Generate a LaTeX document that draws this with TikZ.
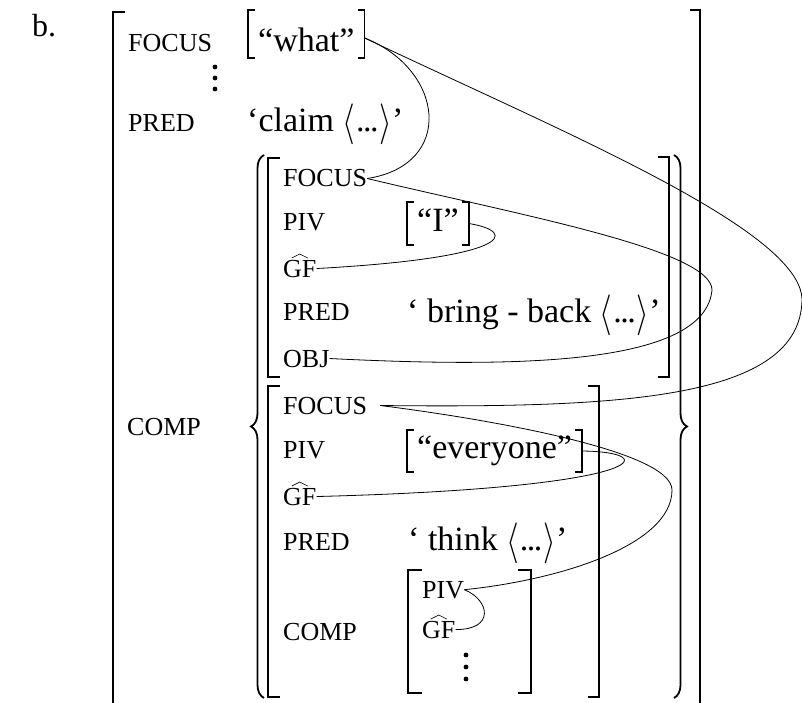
\RequirePackage{fix-cm}
\documentclass[tikz,border=0pt]{standalone}
\usepackage{graphicx}
\usepackage{fontspec}
\setmainfont{Liberation Serif}
\usetikzlibrary{decorations.pathreplacing}

% square brackets drawn along the left and right borders of a node
\newcommand\sqbrackets[1]{%
  \draw[sbar] ([xshift=7pt]#1.north west) -- (#1.north west) -- (#1.south west) -- ([xshift=7pt]#1.south west);
  \draw[sbar] ([xshift=-7pt]#1.north east) -- (#1.north east) -- (#1.south east) -- ([xshift=-7pt]#1.south east);}
% circumflex spanning the label GF
\newcommand\gfhat[1]{%
  \draw[line width=0.6pt] ([xshift=-8pt,yshift=19pt]#1.base) -- ([yshift=23pt]#1.base) -- ([xshift=8pt,yshift=19pt]#1.base);}
% argument list placeholder: tall angle brackets round three dots
\newcommand\tallangle[1]{\raisebox{-3pt}{\scalebox{0.95}[1.2]{$#1$}}}
\newcommand\argslot{\tallangle{\langle}\kern1pt.\kern-1.5pt.\kern-1.5pt.\kern1pt\tallangle{\rangle}}

\begin{document}
\begin{tikzpicture}[x=1pt,y=-1pt,
  attr/.style={anchor=base west, inner sep=0pt, font=\fontsize{26}{30}\selectfont},
  val/.style={anchor=base west, inner sep=0pt, font=\fontsize{34}{40}\selectfont},
  bval/.style={val, inner xsep=10pt},
  fbar/.style={line width=2.2pt},
  sbar/.style={line width=1.6pt},
  link/.style={line width=0.8pt},
  setbrace/.style={line width=1.8pt, decorate, decoration={brace, amplitude=13pt}}]
\useasboundingbox (0,0) rectangle (802,703);

\node[val, font=\fontsize{32}{36}\selectfont] (item) at (32,37) {b.};

% outer f-structure
\node[attr] (oFocus) at (128,52) {FOCUS};
\node[bval, text height=42pt, text depth=6pt] (what) at (248,52) {“what”};
\node[attr] (oPred) at (128,132) {PRED};
\node[val] (claim) at (247,132) {‘claim \argslot’};
\node[attr] (oComp) at (127,435) {COMP};
\foreach \yy in {67,78,89} \fill (215,\yy) circle (2.4);

% first member of the set
\node[attr] (aFocus) at (283,187) {FOCUS};
\node[attr] (aPiv) at (283,230) {PIV};
\node[attr] (aGf) at (283,277) {GF};
\node[attr] (aPred) at (283,320) {PRED};
\node[attr] (aObj) at (283,367) {OBJ};
\node[bval, text height=30pt, text depth=13pt] (iVal) at (407,232) {“I”};
\node[val] (bring) at (407,322) {‘ bring - back \argslot’};

% second member of the set
\node[attr] (bFocus) at (283,414) {FOCUS};
\node[attr] (bPiv) at (283,458) {PIV};
\node[attr] (bGf) at (283,505) {GF};
\node[attr] (bPred) at (283,550) {PRED};
\node[attr] (bComp) at (283,640) {COMP};
\node[bval, text height=28pt, text depth=14pt] (every) at (407,458) {“everyone”};
\node[val] (think) at (408,550) {‘ think \argslot’};

% embedded COMP
\node[attr] (cPiv) at (422,598) {PIV};
\node[attr] (cGf) at (422,638) {GF};
\foreach \yy in {655,667,679} \fill (466,\yy) circle (2.4);

\gfhat{aGf}
\gfhat{bGf}
\gfhat{cGf}

\sqbrackets{what}
\sqbrackets{iVal}
\sqbrackets{every}

% matrix brackets
\draw[fbar] (125,12) -- (113,12) -- (113,710);
\draw[fbar] (690,10) -- (700,10) -- (700,710);
\draw[fbar] (280,158) -- (268,158) -- (268,377) -- (280,377);
\draw[fbar] (658,157) -- (669,157) -- (669,377) -- (658,377);
\draw[fbar] (280,386) -- (268,386) -- (268,697) -- (280,697);
\draw[fbar] (588,386) -- (599,386) -- (599,697) -- (588,697);
\draw[fbar] (422,570) -- (408,570) -- (408,693) -- (422,693);
\draw[fbar] (518,570) -- (531,570) -- (531,693) -- (518,693);

% set braces
\draw[setbrace] (264,698) -- (264,155);
\draw[setbrace] (674,155) -- (674,698);

% structure-sharing links
\draw[link] ([yshift=-4pt]what.east) .. controls (445,70) and (455,165) .. (aFocus.east);
\draw[link] ([yshift=-4pt]what.east) .. controls (560,131) and (802,230) .. (802,300)
  .. controls (800,400) and (620,408) .. ([xshift=13pt]bFocus.east);
\draw[link] (aFocus.east) .. controls (520,215) and (712,250) .. (712,290)
  .. controls (705,365) and (520,368) .. (aObj.east);
\draw[link] (iVal.east) .. controls (520,232) and (510,258) .. (aGf.east);
\draw[link] ([xshift=13pt]bFocus.east) .. controls (480,418) and (672,450) .. (672,490)
  .. controls (672,545) and (560,580) .. (cPiv.east);
\draw[link] (every.east) .. controls (665,452) and (650,488) .. (bGf.east);
\draw[link] (cPiv.east) .. controls (490,600) and (495,630) .. (cGf.east);
\end{tikzpicture}
\end{document}
